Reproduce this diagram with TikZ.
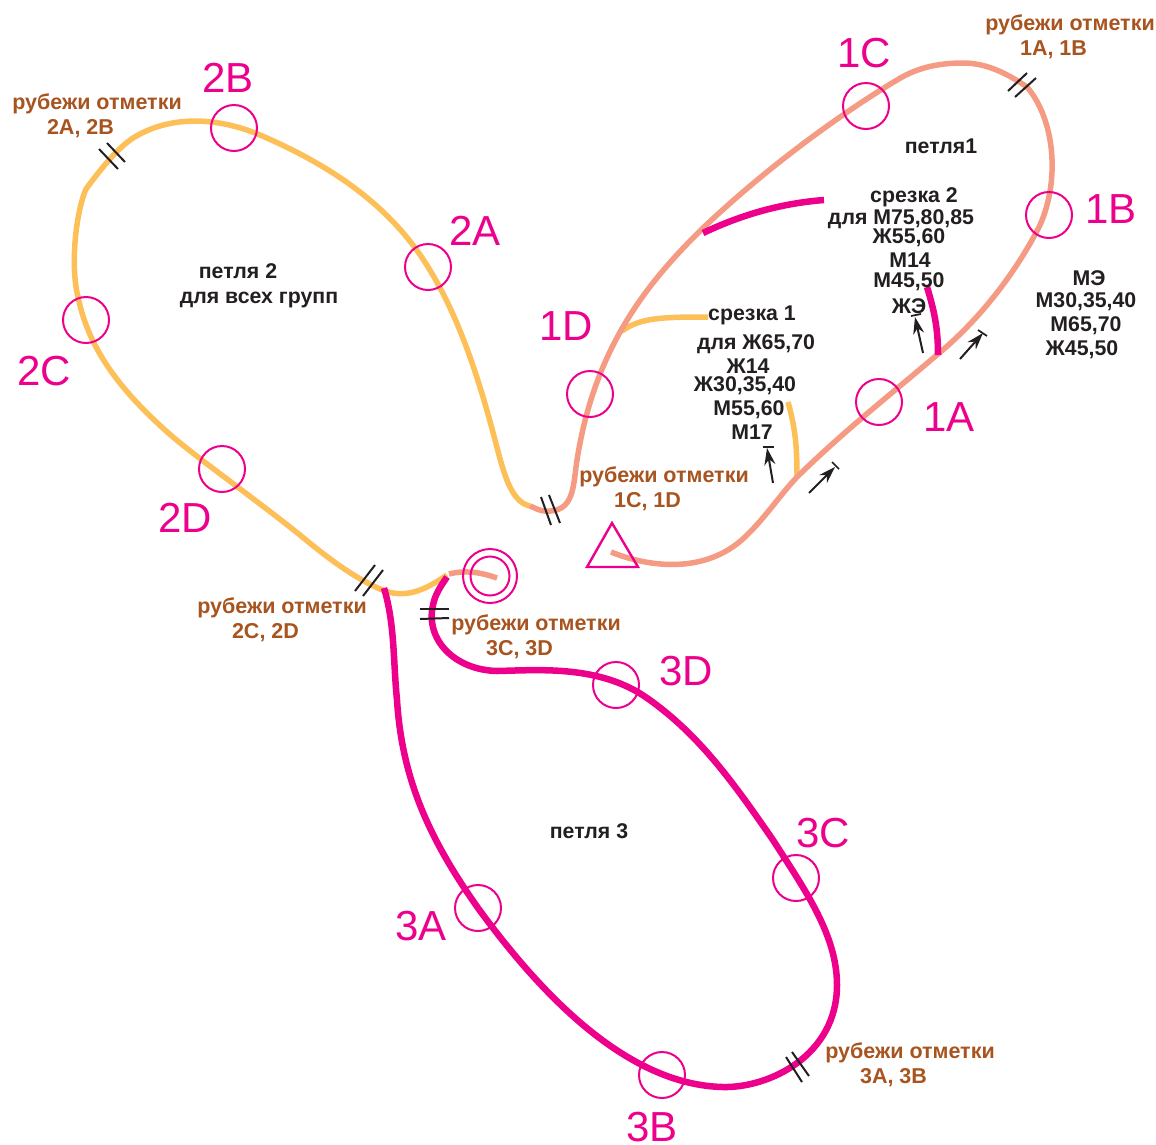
\documentclass[tikz,border=0pt]{standalone}
\usepackage{fontspec}
\setmainfont{Liberation Sans}
\usetikzlibrary{arrows.meta}
\definecolor{pk}{HTML}{EC008C}
\definecolor{ye}{HTML}{FDBF57}
\definecolor{sa}{HTML}{F59B83}
\definecolor{br}{HTML}{A8541F}
\definecolor{ink}{HTML}{231F20}
\newcommand{\shl}{\hspace*{-33pt}}
\tikzset{
 cp/.style={circle,draw=pk,line width=2pt,minimum size=46pt,inner sep=0pt},
 cpl/.style={text=pk,font=\fontsize{42}{42}\selectfont,inner sep=0pt},
 rub/.style={text=br,font=\bfseries\fontsize{21.5}{25}\selectfont,align=center,inner sep=0pt},
 blk/.style={text=ink,font=\bfseries\fontsize{21.3}{24}\selectfont,align=center,inner sep=0pt},
 tick/.style={draw=ink,line width=2pt},
 ar/.style={draw=ink,line width=2pt,-{Stealth[length=17pt,width=11pt]}},
 bar/.style={draw=ink,line width=1.7pt},
 sal/.style={draw=sa,line width=5.5pt},
 yel/.style={draw=ye,line width=5.5pt},
 mag/.style={draw=pk,line width=6.5pt},
}
\begin{document}
\begin{tikzpicture}[x=1pt,y=-1pt]
\useasboundingbox (0,0) rectangle (1156,1144);
% yellow loop
\draw[yel] (530,506) .. controls (510,502) and (503,470) .. (495,440)
 .. controls (478,375) and (458,315) .. (428,267)
 .. controls (390,205) and (330,165) .. (260,135)
 .. controls (225,120) and (175,112) .. (133,138)
 .. controls (118,148) and (103,166) .. (86,189)
 .. controls (76,212) and (70,265) .. (78,297)
 .. controls (88,345) and (115,385) .. (165,430)
 .. controls (190,453) and (250,495) .. (300,535)
 .. controls (330,560) and (355,578) .. (380,589)
 .. controls (405,600) and (425,590) .. (447,575);
\draw[yel] (622,331) .. controls (640,318) and (660,317) .. (708,317);
\draw[yel] (788,402) .. controls (795,427) and (797,445) .. (797,476);
% salmon loop
\draw[sal] (611,552) .. controls (648,567) and (705,575) .. (745,537)
 .. controls (765,518) and (780,495) .. (797,477)
 .. controls (845,430) and (890,395) .. (938,354)
 .. controls (985,315) and (1020,265) .. (1040,225)
 .. controls (1060,180) and (1055,120) .. (1027,87)
 .. controls (1005,72) and (985,63) .. (963,63)
 .. controls (935,63) and (915,69) .. (897,80)
 .. controls (860,102) and (780,155) .. (703,228)
 .. controls (650,280) and (595,345) .. (577,460)
 .. controls (573,485) and (575,513) .. (545,511)
 .. controls (540,511) and (535,508) .. (530,506);
\draw[sal] (449,574) .. controls (465,570) and (480,572) .. (497,578);
% magenta loop
\draw[mag] (384,588) .. controls (395,625) and (393,660) .. (397,700)
 .. controls (402,780) and (430,840) .. (478,908)
 .. controls (545,1000) and (630,1085) .. (723,1087)
 .. controls (770,1088) and (837,1055) .. (837,985)
 .. controls (837,935) and (805,890) .. (773,840)
 .. controls (735,785) and (700,735) .. (647,698)
 .. controls (600,665) and (540,670) .. (497,671)
 .. controls (455,670) and (425,640) .. (433,605)
 .. controls (435,595) and (440,587) .. (447,577);
\draw[mag] (703,233) .. controls (745,213) and (785,203) .. (824,200);
\draw[mag] (927,287) .. controls (935,313) and (938,330) .. (938,355);
% checkpoint circles
\node[cp] (c2B) at (234,128) {};
\node[cp] (c2A) at (428,267) {};
\node[cp] (c2C) at (86,320) {};
\node[cp] (c2D) at (222,469) {};
\node[cp] (c1C) at (866,106) {};
\node[cp] (c1B) at (1049,215) {};
\node[cp] (c1D) at (590,394) {};
\node[cp] (c1A) at (879,402) {};
\node[cp] (c3D) at (616,685) {};
\node[cp] (c3C) at (796,878) {};
\node[cp] (c3A) at (478,908) {};
\node[cp] (c3B) at (662,1075) {};
\node[circle,draw=pk,line width=2pt,minimum size=54pt,inner sep=0pt] (fo) at (490,576) {};
\node[circle,draw=pk,line width=2pt,minimum size=39pt,inner sep=0pt] (fi) at (490,576) {};
% start triangle
\draw[pk,line width=2.4pt,line join=miter] (612,523) -- (638,567) -- (587,567) -- cycle;
% double ticks
\draw[tick] (99,149) -- (118,169);
\draw[tick] (107,143) -- (125,162);
\draw[tick] (1008,91) -- (1027,73);
\draw[tick] (1015,97) -- (1036,78);
\draw[tick] (541,497) -- (551,525);
\draw[tick] (549,495) -- (560,523);
\draw[tick] (355,591) -- (375,565);
\draw[tick] (363,596) -- (383,570);
\draw[tick] (420,609) -- (449,609);
\draw[tick] (420,619) -- (449,618);
\draw[tick] (786,1057) -- (802,1082);
\draw[tick] (792,1052) -- (809,1076);
% direction arrows
\coordinate (a1s) at (773,483); \coordinate (a1e) at (767,448);
\coordinate (a2s) at (809,493); \coordinate (a2e) at (835,467);
\coordinate (a3s) at (923,353); \coordinate (a3e) at (915,317);
\coordinate (a4s) at (960,359); \coordinate (a4e) at (983,333);
\draw[ar] (a1s) -- (a1e); \draw[bar] (763,447) -- (774,447);
\draw[ar] (a2s) -- (a2e); \draw[bar] (832,462) -- (839,469);
\draw[ar] (a3s) -- (a3e); \draw[bar] (911,316) -- (921,314);
\draw[ar] (a4s) -- (a4e); \draw[bar] (978,330) -- (987,336);
% checkpoint labels
\node[cpl] at (228,78) {2B};
\node[cpl] at (475,231) {2A};
\node[cpl] at (44,371) {2C};
\node[cpl] at (185,518) {2D};
\node[cpl] at (864,53) {1C};
\node[cpl] at (1111,209) {1B};
\node[cpl] at (566,326) {1D};
\node[cpl] at (949,417) {1A};
\node[cpl] at (686,671) {3D};
\node[cpl] at (823,833) {3C};
\node[cpl] at (421,926) {3A};
\node[cpl] at (652,1127) {3B};
% brown labels
\node[rub] (r2) at (97,116) {рубежи отметки\\\shl 2A, 2B};
\node[rub] (r1) at (1070,37) {рубежи отметки\\\shl 1A, 1B};
\node[rub] (r1c) at (664,489) {рубежи отметки\\\shl 1C, 1D};
\node[rub] (r2c) at (282,620) {рубежи отметки\\\shl 2C, 2D};
\node[rub] (r3c) at (536,637) {рубежи отметки\\\shl 3C, 3D};
\node[rub] (r3a) at (910,1065) {рубежи отметки\\\shl 3A, 3B};
% black labels
\node[blk] (p1) at (941,146) {петля1};
\node[blk] (p2) at (238,271) {петля 2};
\node[blk] (p2b) at (259,300) {для всех групп};
\node[blk] (p3) at (589,831) {петля 3};
\node[blk] (s1) at (752,315) {срезка 1};
\node[blk] (s1a) at (756,344) {для Ж65,70};
\node[blk] (s1b) at (748,366) {Ж14};
\node[blk] (s1c) at (745,386) {Ж30,35,40};
\node[blk] (s1d) at (749,410) {М55,60};
\node[blk] (s1e) at (752,432) {М17};
\node[blk] (s2) at (914,197) {срезка 2};
\node[blk] (s2a) at (901,219) {для М75,80,85};
\node[blk] (s2b) at (909,238) {Ж55,60};
\node[blk] (s2c) at (910,260) {М14};
\node[blk] (s2d) at (909,282) {М45,50};
\node[blk] (s2e) at (909,306) {ЖЭ};
\node[blk] (m1) at (1089,278) {МЭ};
\node[blk] (m2) at (1086,302) {М30,35,40};
\node[blk] (m3) at (1086,326) {М65,70};
\node[blk] (m4) at (1082,350) {Ж45,50};
\end{tikzpicture}
\end{document}
